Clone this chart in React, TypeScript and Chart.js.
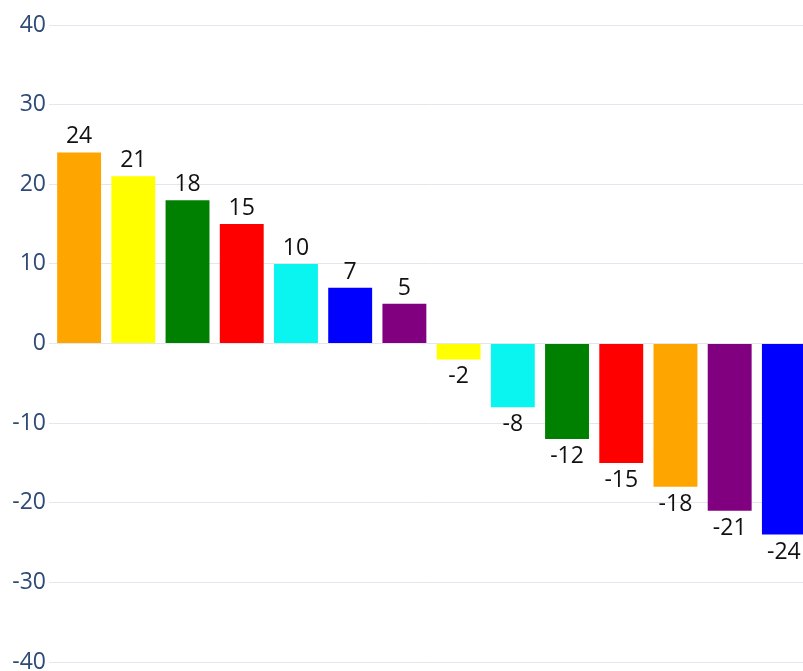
import React, { useEffect, useRef } from "react";
import { Chart, registerables } from "chart.js";

Chart.register(...registerables);

const categories = ["A", "B", "C", "D", "E", "F", "G", "H", "I", "J", "K", "L", "M", "N"];
const values = [24, 21, 18, 15, 10, 7, 5, -2, -8, -12, -15, -18, -21, -24];
const barColors = [
  "#FFA500", "#FFFF00", "#008000", "#FF0000", "#0AF5F0", "#0000FF", "#800080",
  "#FFFF00", "#0AF5F0", "#008000", "#FF0000", "#FFA500", "#800080", "#0000FF",
];
const yMin = -40;
const yMax = 40;
const yStep = 10;

const FONT = "'Open Sans', 'Noto Sans', sans-serif";

const valueLabels = {
  id: "valueLabels",
  afterDatasetsDraw(chart: any) {
    const ctx = chart.ctx;
    const meta = chart.getDatasetMeta(0);
    ctx.save();
    ctx.font = `23px ${FONT}`;
    ctx.fillStyle = "#111111";
    ctx.textAlign = "center";
    ctx.textBaseline = "alphabetic";
    meta.data.forEach((bar: any, i: number) => {
      const v = values[i];
      const y = v >= 0 ? bar.y - 9 : bar.y + 7 + 17;
      ctx.fillText(String(v), bar.x, y);
    });
    ctx.restore();
  },
};

export default function App() {
  const ref = useRef<HTMLCanvasElement | null>(null);
  useEffect(() => {
    if (!ref.current) return;
    const chart = new Chart(ref.current, {
      type: "bar",
      data: {
        labels: categories,
        datasets: [
          {
            data: values,
            backgroundColor: barColors,
            borderWidth: 0,
            barPercentage: 0.9,
            categoryPercentage: 0.9,
          },
        ],
      },
      options: {
        animation: false,
        responsive: true,
        maintainAspectRatio: false,
        layout: { padding: { top: 25, bottom: 28, left: 0, right: 9 } },
        plugins: {
          legend: { display: false },
          tooltip: { enabled: false },
          title: { display: false },
        },
        scales: {
          x: {
            ticks: { display: false },
            grid: { display: false },
            border: { display: false },
          },
          y: {
            min: yMin,
            max: yMax,
            ticks: {
              stepSize: yStep,
              padding: 3,
              color: "#2E4A78",
              font: { family: FONT, size: 23 },
            },
            grid: { color: "#E3E6EE", tickLength: 3, lineWidth: 1 },
            border: { display: false },
            afterFit(scale: any) {
              scale.width = 52;
            },
          },
        },
      },
      plugins: [valueLabels],
    });
    return () => chart.destroy();
  }, []);

  return (
    <div
      style={{
        position: "fixed",
        left: 0,
        top: 0,
        width: 803,
        height: 671,
        overflow: "hidden",
        background: "#fff",
      }}
    >
      <div style={{ position: "absolute", left: 0, top: 0, width: 820, height: 698 }}>
        <canvas ref={ref} />
      </div>
    </div>
  );
}
